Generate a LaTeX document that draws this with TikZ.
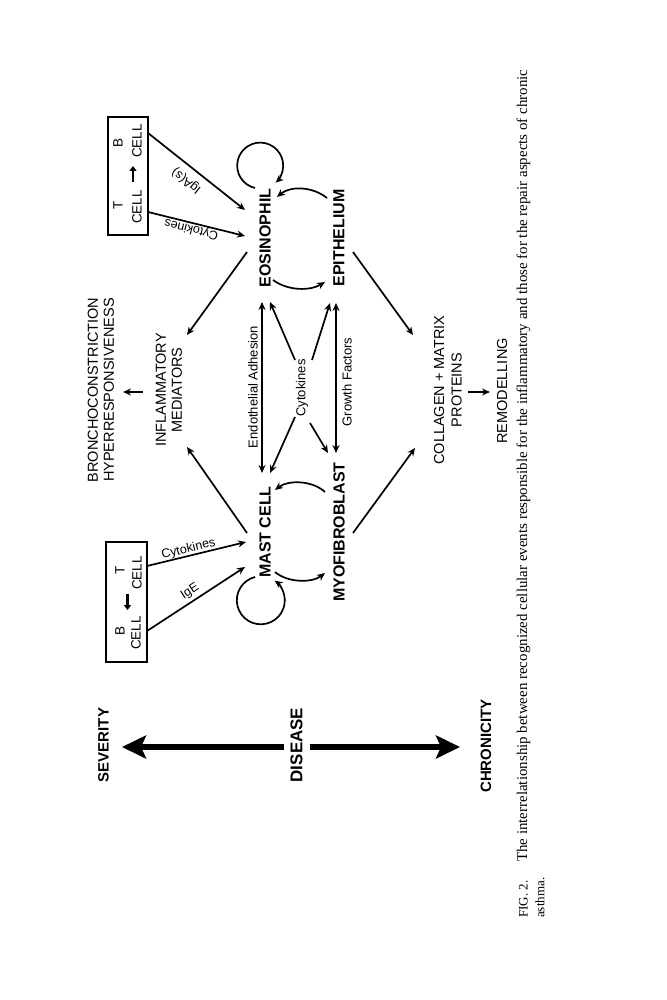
\documentclass[tikz,border=0pt]{standalone}
\usepackage{fontspec}
\setmainfont{Liberation Serif}
\newfontfamily\hv{Liberation Sans}
\usetikzlibrary{arrows.meta}
\begin{document}
\begin{tikzpicture}[x=1pt,y=-1pt,
  lab/.style={inner sep=0pt, font=\hv\fontsize{14.5}{16}\selectfont, align=center, rotate=90},
  cell/.style={inner sep=0pt, font=\hv\bfseries\fontsize{16}{18}\selectfont, rotate=90},
  axislab/.style={inner sep=0pt, font=\hv\bfseries\fontsize{15}{17}\selectfont, rotate=90},
  small/.style={inner sep=0pt, font=\hv\fontsize{13}{15}\selectfont},
  boxtxt/.style={inner sep=0pt, font=\hv\fontsize{13.5}{15}\selectfont, rotate=90},
  captxt/.style={inner sep=0pt, font=\fontsize{13}{15}\selectfont, rotate=90},
  con/.style={line width=1.7pt, -{Stealth[length=8pt,width=7pt]}},
  dcon/.style={line width=1.7pt, {Stealth[length=8pt,width=7pt]}-{Stealth[length=8pt,width=7pt]}},
  boxarrow/.style={line width=2.4pt, -{Triangle[length=5pt,width=7pt]}},
  box/.style={draw, line width=1.4pt, inner sep=0pt, minimum width=120pt, minimum height=41pt, rotate=90},
  bigarrow/.style={line width=6pt, -{Stealth[length=24pt,width=23pt,inset=5pt]}},
]
\useasboundingbox (0,0) rectangle (666,1000);

% axis
\node[axislab] (sev) at (103.5,745) {SEVERITY};
\node[axislab, font=\hv\bfseries\fontsize{17}{19}\selectfont] (dis) at (296.5,745) {DISEASE};
\node[axislab] (chron) at (486,746) {CHRONICITY};
\draw[bigarrow] ([shift={(-13,2)}]dis.center) -- ([shift={(-174.5,2)}]dis.center);
\draw[bigarrow] ([shift={(13,2)}]dis.center) -- ([shift={(163.5,2)}]dis.center);

% boxes
\node[box] (lbox) at (126.5,602) {};
\node[boxtxt] (lb) at (120,631) {B};
\node[boxtxt] (lbc) at (136,633) {CELL};
\node[boxtxt] (lt) at (120,570) {T};
\node[boxtxt] (ltc) at (137,573) {CELL};
\draw[boxarrow] ([shift={(1,-8)}]lbox.center) -- ([shift={(1,8)}]lbox.center);

\node[box, minimum width=118pt, minimum height=40pt] (rbox) at (128,176) {};
\node[boxtxt] (rb) at (118,143) {B};
\node[boxtxt] (rbc) at (137,141) {CELL};
\node[boxtxt] (rt) at (118,205) {T};
\node[boxtxt] (rtc) at (137,207) {CELL};
\draw[boxarrow] ([shift={(5,6)}]rbox.center) -- ([shift={(5,-10)}]rbox.center);

% cells
\node[cell] (mast) at (265,532) {MAST CELL};
\node[cell] (eos) at (265,238) {EOSINOPHIL};
\node[cell] (myo) at (339,532) {MYOFIBROBLAST};
\node[cell] (epi) at (339,238) {EPITHELIUM};

% other labels
\node[lab] (infl) at (169,390) {INFLAMMATORY\\MEDIATORS};
\node[lab] (bronch) at (101,390) {BRONCHOCONSTRICTION\\HYPERRESPONSIVENESS};
\node[lab, font=\hv\fontsize{14.5}{17.5}\selectfont] (coll) at (448,390) {COLLAGEN + MATRIX\\PROTEINS};
\node[lab] (remod) at (502,391) {REMODELLING};

\node[small, rotate=90] (endo) at (253,387) {Endothelial Adhesion};
\node[small, rotate=90] (gf) at (347,382) {Growth Factors};
\node[small, rotate=90] (cyt) at (302,388) {Cytokines};

% box connectors
\draw[con] ([shift={(20.5,-36)}]lbox.center) -- ([shift={(-19,10)}]mast.center);
\draw[con] ([shift={(20.5,29)}]lbox.center) -- ([shift={(-20,35)}]mast.center);
\draw[con] ([shift={(20,36)}]rbox.center) -- ([shift={(-20,-2)}]eos.center);
\draw[con] ([shift={(20,-43)}]rbox.center) -- ([shift={(-20,-28)}]eos.center);
\node[small, font=\hv\fontsize{12.5}{14}\selectfont, rotate=13.6] (lcyt) at (188.5,549) {Cytokines};
\node[small, font=\hv\fontsize{12.5}{14}\selectfont, rotate=33.1] (ige) at (190,592) {IgE};
\node[small, font=\hv\fontsize{12.5}{14}\selectfont, rotate=166.1] (rcyt) at (191.5,229) {Cytokines};
\node[small, font=\hv\fontsize{12.5}{14}\selectfont, rotate=141.6] (iga) at (186.5,181) {IgA(s)};

% to mediators
\draw[con] ([shift={(-18,1)}]mast.center) -- ([shift={(18,57)}]infl.center);
\draw[con] ([shift={(-18,14)}]eos.center) -- ([shift={(18,-55)}]infl.center);
\draw[con] ([shift={(-26,2)}]infl.center) -- ([shift={(22,2)}]bronch.center);

% to collagen
\draw[con] ([shift={(14,1)}]myo.center) -- ([shift={(-33,58)}]coll.center);
\draw[con] ([shift={(14,14)}]epi.center) -- ([shift={(-35,-55)}]coll.center);
\draw[con] ([shift={(20,2)}]coll.center) -- ([shift={(-12,1)}]remod.center);

% double arrows
\draw[dcon] ([shift={(-3,64)}]eos.center) -- ([shift={(-3,-59)}]mast.center);
\draw[dcon] ([shift={(-3,65)}]epi.center) -- ([shift={(-3,-79)}]myo.center);

% cytokine cross
\draw[con] ([shift={(-7,-28)}]cyt.center) -- ([shift={(5,64)}]eos.center);
\draw[con] ([shift={(10,-28)}]cyt.center) -- ([shift={(-9,65)}]epi.center);
\draw[con] ([shift={(-7,29)}]cyt.center) -- ([shift={(5,-59)}]mast.center);
\draw[con] ([shift={(8,35)}]cyt.center) -- ([shift={(-11,-79)}]myo.center);

% curved arrows
\draw[con] ([shift={(-14,-40)}]myo.center) .. controls ([shift={(-27,-52)}]myo.center) and ([shift={(23,-52)}]mast.center) .. ([shift={(10,-42)}]mast.center);
\draw[con] ([shift={(10,40)}]mast.center) .. controls ([shift={(23,51)}]mast.center) and ([shift={(-27,51)}]myo.center) .. ([shift={(-14,41)}]myo.center);
\draw[con] ([shift={(-12,-40)}]epi.center) .. controls ([shift={(-27,-52)}]epi.center) and ([shift={(25,-52)}]eos.center) .. ([shift={(12,-41)}]eos.center);
\draw[con] ([shift={(8,42)}]eos.center) .. controls ([shift={(23,53)}]eos.center) and ([shift={(-29,53)}]epi.center) .. ([shift={(-14,44)}]epi.center);

% self loops
\draw[con] ([shift={(-10,-50)}]eos.center) arc[start angle=257, end angle=-48, radius=23pt];
\draw[con] ([shift={(-10,45)}]mast.center) arc[start angle=104, end angle=415, radius=24pt];

% caption
\node[captxt, anchor=west] (fig) at (523.5,918) {FIG. 2.};
\node[captxt, anchor=west] (capt) at (523.5,862) {\resizebox{792pt}{!}{The interrelationship between recognized cellular events responsible for the inflammatory and those for the repair aspects of chronic}};
\node[captxt, anchor=west] (capt2) at (540,918) {asthma.};
\end{tikzpicture}
\end{document}
